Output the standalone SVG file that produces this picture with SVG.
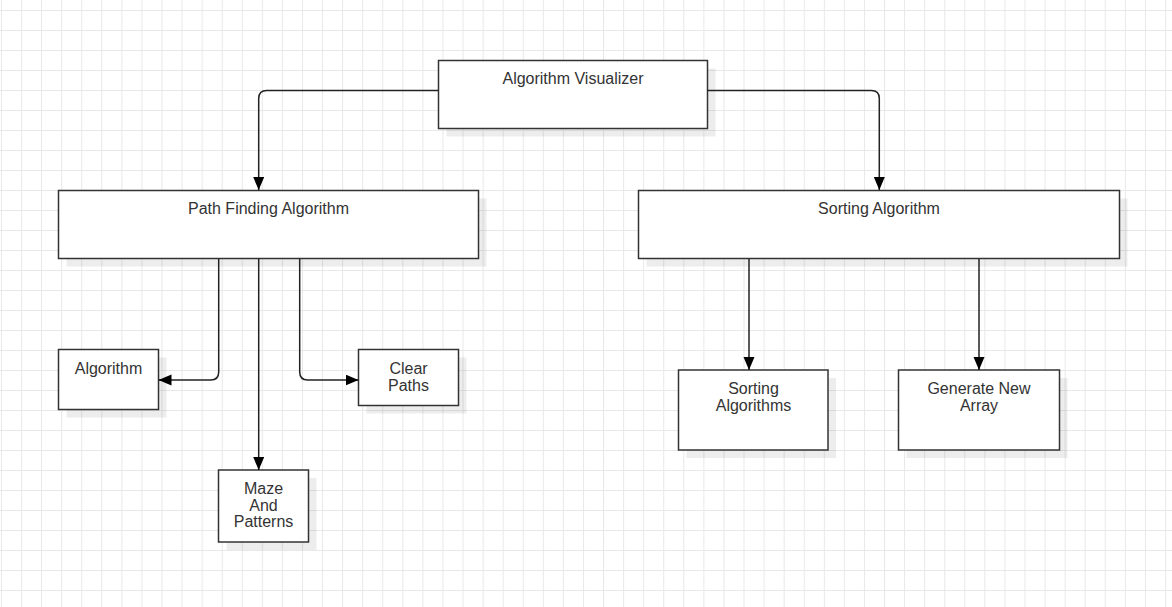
<svg xmlns="http://www.w3.org/2000/svg" width="1172" height="607" viewBox="0 0 1172 607">
  <style>
    .box { fill: #ffffff; stroke: #333333; stroke-width: 1.5; }
    .sh { fill: #000000; fill-opacity: 0.07; }
    .lbl { font-family: "Liberation Sans", Arial, sans-serif; font-size: 16px; fill: #333333; text-anchor: middle; }
    .edge { fill: none; stroke: #222222; stroke-width: 1.5; marker-end: url(#arrow); }
  </style>
  <defs>
    <pattern id="grid" patternUnits="userSpaceOnUse" x="21" y="10" width="20.07" height="20">
      <path d="M0.5,0 V20 M0,0.5 H20.07" fill="none" stroke="#e8e8e8" stroke-width="1"/>
    </pattern>
    <marker id="arrow" markerUnits="userSpaceOnUse" markerWidth="14" markerHeight="12" refX="13" refY="5.5" orient="auto">
      <path d="M0,0 L13,5.5 L0,11 Z" fill="#000000"/>
    </marker>
  </defs>
  <rect x="0" y="0" width="1172" height="607" fill="#ffffff"/>
  <rect x="0" y="0" width="1172" height="607" fill="url(#grid)"/>

  <g id="node-visualizer">
    <rect class="sh" x="446.5" y="68.5" width="269" height="68"/>
    <rect class="box" x="438.5" y="60.5" width="269" height="68"/>
    <text class="lbl" x="573" y="83.5">Algorithm Visualizer</text>
  </g>
  <g id="node-pathfinding">
    <rect class="sh" x="66.5" y="198.5" width="420" height="68"/>
    <rect class="box" x="58.5" y="190.5" width="420" height="68"/>
    <text class="lbl" x="268.5" y="214">Path Finding Algorithm</text>
  </g>
  <g id="node-sorting">
    <rect class="sh" x="646.5" y="198.5" width="481" height="68"/>
    <rect class="box" x="638.5" y="190.5" width="481" height="68"/>
    <text class="lbl" x="879" y="214">Sorting Algorithm</text>
  </g>
  <g id="node-algorithm">
    <rect class="sh" x="66.5" y="357.5" width="100" height="60"/>
    <rect class="box" x="58.5" y="349.5" width="100" height="60"/>
    <text class="lbl" x="108.5" y="374">Algorithm</text>
  </g>
  <g id="node-clearpaths">
    <rect class="sh" x="366.5" y="357.5" width="100" height="56"/>
    <rect class="box" x="358.5" y="349.5" width="100" height="56"/>
    <text class="lbl" x="408.5" y="374">Clear</text>
    <text class="lbl" x="408.5" y="390.5">Paths</text>
  </g>
  <g id="node-maze">
    <rect class="sh" x="226.5" y="478" width="90" height="72"/>
    <rect class="box" x="218.5" y="470" width="90" height="72"/>
    <text class="lbl" x="263.5" y="494">Maze</text>
    <text class="lbl" x="263.5" y="510.5">And</text>
    <text class="lbl" x="263.5" y="527">Patterns</text>
  </g>
  <g id="node-sortingalgorithms">
    <rect class="sh" x="686.5" y="378" width="149.5" height="80"/>
    <rect class="box" x="678.5" y="370" width="149.5" height="80"/>
    <text class="lbl" x="753.5" y="394">Sorting</text>
    <text class="lbl" x="753.5" y="410.5">Algorithms</text>
  </g>
  <g id="node-generate">
    <rect class="sh" x="906.5" y="378" width="161" height="80"/>
    <rect class="box" x="898.5" y="370" width="161" height="80"/>
    <text class="lbl" x="979" y="394">Generate New</text>
    <text class="lbl" x="979" y="410.5">Array</text>
  </g>

  <g id="connectors">
    <path class="edge" d="M438.5,90.5 H266.7 Q258.7,90.5 258.7,98.5 V190"/>
    <path class="edge" d="M707.5,90.5 H871.3 Q879.3,90.5 879.3,98.5 V190"/>
    <path class="edge" d="M218.7,259 V372 Q218.7,380 210.7,380 H158.5"/>
    <path class="edge" d="M258.7,259 V470"/>
    <path class="edge" d="M299.7,259 V372 Q299.7,380 307.7,380 H358.5"/>
    <path class="edge" d="M749,259 V370"/>
    <path class="edge" d="M979,259 V370"/>
  </g>
</svg>
